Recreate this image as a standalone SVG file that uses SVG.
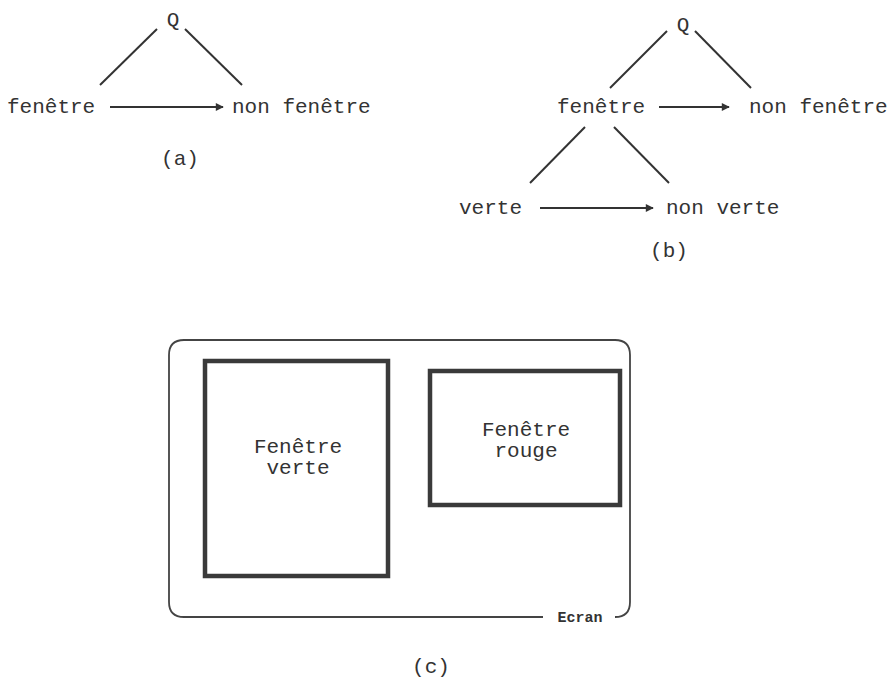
<svg xmlns="http://www.w3.org/2000/svg" width="891" height="679" viewBox="0 0 891 679">
<defs>
<style>
.t{font-family:"Liberation Mono","Courier New",monospace;font-size:21px;fill:#333}
.s{font-family:"Liberation Mono","Courier New",monospace;font-size:15px;fill:#333;font-weight:bold}
.ln{stroke:#333;stroke-width:2;fill:none}
.ar{stroke:#333;stroke-width:2;fill:none;marker-end:url(#ah)}
.box{stroke:#3a3a3a;stroke-width:4.5;fill:none}
.scr{stroke:#444;stroke-width:1.8;fill:none}
</style>
<marker id="ah" viewBox="0 0 10 10" refX="9" refY="5" markerWidth="5" markerHeight="4" orient="auto" markerUnits="strokeWidth">
<path d="M0,0 L10,5 L0,10 z" fill="#333"/>
</marker>
</defs>
<rect width="891" height="679" fill="#fff"/>
<g id="diagram-a">
<g id="a-q"><text class="t" x="173" y="26" text-anchor="middle">Q</text></g>
<g id="a-fenetre"><text class="t" x="7" y="113">fenêtre</text></g>
<g id="a-nonfenetre"><text class="t" x="232" y="113">non fenêtre</text></g>
<text class="t" x="180" y="165" text-anchor="middle">(a)</text>
</g>
<g id="diagram-b">
<g id="b-q"><text class="t" x="683" y="31" text-anchor="middle">Q</text></g>
<g id="b-fenetre"><text class="t" x="557" y="113">fenêtre</text></g>
<g id="b-nonfenetre"><text class="t" x="749" y="113">non fenêtre</text></g>
<g id="b-verte"><text class="t" x="459" y="214">verte</text></g>
<g id="b-nonverte"><text class="t" x="666" y="214">non verte</text></g>
<text class="t" x="669" y="257" text-anchor="middle">(b)</text>
</g>
<g id="connectors">
<line class="ln" x1="100" y1="85" x2="157" y2="29"/>
<line class="ln" x1="185" y1="29" x2="242" y2="85"/>
<line class="ar" x1="110" y1="107" x2="223" y2="107"/>
<line class="ln" x1="610" y1="88" x2="667" y2="31"/>
<line class="ln" x1="695" y1="31" x2="751" y2="88"/>
<line class="ar" x1="659" y1="107" x2="729" y2="107"/>
<line class="ln" x1="530" y1="183" x2="585" y2="127"/>
<line class="ln" x1="614" y1="127" x2="669" y2="183"/>
<line class="ar" x1="540" y1="208" x2="653" y2="208"/>
</g>
<g id="diagram-c">
<g id="ecran">
<path class="scr" d="M543,617 L184,617 Q169,617 169,602 L169,355 Q169,340 184,340 L615,340 Q630,340 630,355 L630,602 Q630,617 615,617"/>
<text class="s" x="580" y="622" text-anchor="middle">Ecran</text>
</g>
<g id="fenetre-verte">
<rect class="box" x="205" y="361" width="183" height="215"/>
<text class="t" x="298" y="453" text-anchor="middle">Fenêtre</text>
<text class="t" x="298" y="474" text-anchor="middle">verte</text>
</g>
<g id="fenetre-rouge">
<rect class="box" x="430" y="371" width="190" height="134"/>
<text class="t" x="526" y="436" text-anchor="middle">Fenêtre</text>
<text class="t" x="526" y="457" text-anchor="middle">rouge</text>
</g>
<text class="t" x="431" y="673" text-anchor="middle">(c)</text>
</g>
</svg>
